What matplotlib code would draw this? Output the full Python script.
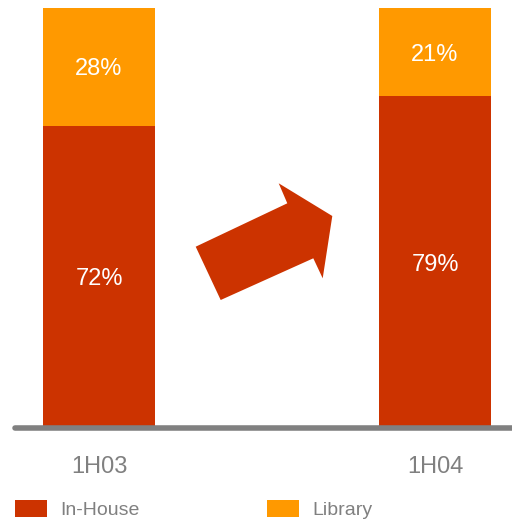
import numpy as np
import matplotlib
matplotlib.use('Agg')
import matplotlib.pyplot as plt
from matplotlib.patches import Polygon

plt.rcParams['font.family'] = ['Liberation Sans', 'DejaVu Sans']

# 数据
periods = ['1H03', '1H04']
in_house = [72, 79]
library = [28, 21]

red = '#CC3300'
orange = '#FF9900'
grey = '#808080'

fig = plt.figure(figsize=(5.12, 5.20), dpi=100)
W, H = 512.0, 520.0
ax = fig.add_axes([15 / W, 1 - 428 / H, (512 - 15) / W, (428 - 8) / H])

x = np.arange(len(periods))
b1 = ax.bar(x, in_house, width=0.333, color=red, label='In-House')
b2 = ax.bar(x, library, width=0.333, bottom=in_house, color=orange, label='Library')

# 百分比标签
for i in range(len(periods)):
    ax.text(x[i], in_house[i] / 2, f'{in_house[i]}%', ha='center',
            va='center_baseline', color='white', fontsize=17)
    ax.text(x[i], in_house[i] + library[i] / 2, f'{library[i]}%', ha='center',
            va='center_baseline', color='white', fontsize=17)

ax.set_xlim(-0.25, 1.229)
ax.set_ylim(0, 100)
for s in ax.spines.values():
    s.set_visible(False)
ax.set_yticks([])
ax.set_xticks(x)
ax.set_xticklabels(periods, fontsize=17, color=grey)
ax.tick_params(axis='x', length=0, pad=20.5)
ax.axhline(0, color=grey, lw=4, solid_capstyle='round', clip_on=False, zorder=5)

# 箭头
pts = [(195.7, 246.7), (287.3, 203.3), (278.7, 183.3), (332.3, 216),
       (322.7, 278.3), (313.3, 258.3), (220.7, 300)]
arrow = Polygon([(px / W, 1 - py / H) for px, py in pts], closed=True,
                facecolor=red, edgecolor='none', transform=fig.transFigure)
fig.add_artist(arrow)

leg = fig.legend(handles=[b1, b2], loc='lower left', bbox_to_anchor=(15 / W, 1 / H),
                 ncol=2, frameon=False, fontsize=14, handlelength=1.63,
                 handleheight=1.0, handletextpad=0.7, columnspacing=6.55,
                 borderpad=0, borderaxespad=0)
for t in leg.get_texts():
    t.set_color(grey)

fig.savefig('out.png', dpi=100)
